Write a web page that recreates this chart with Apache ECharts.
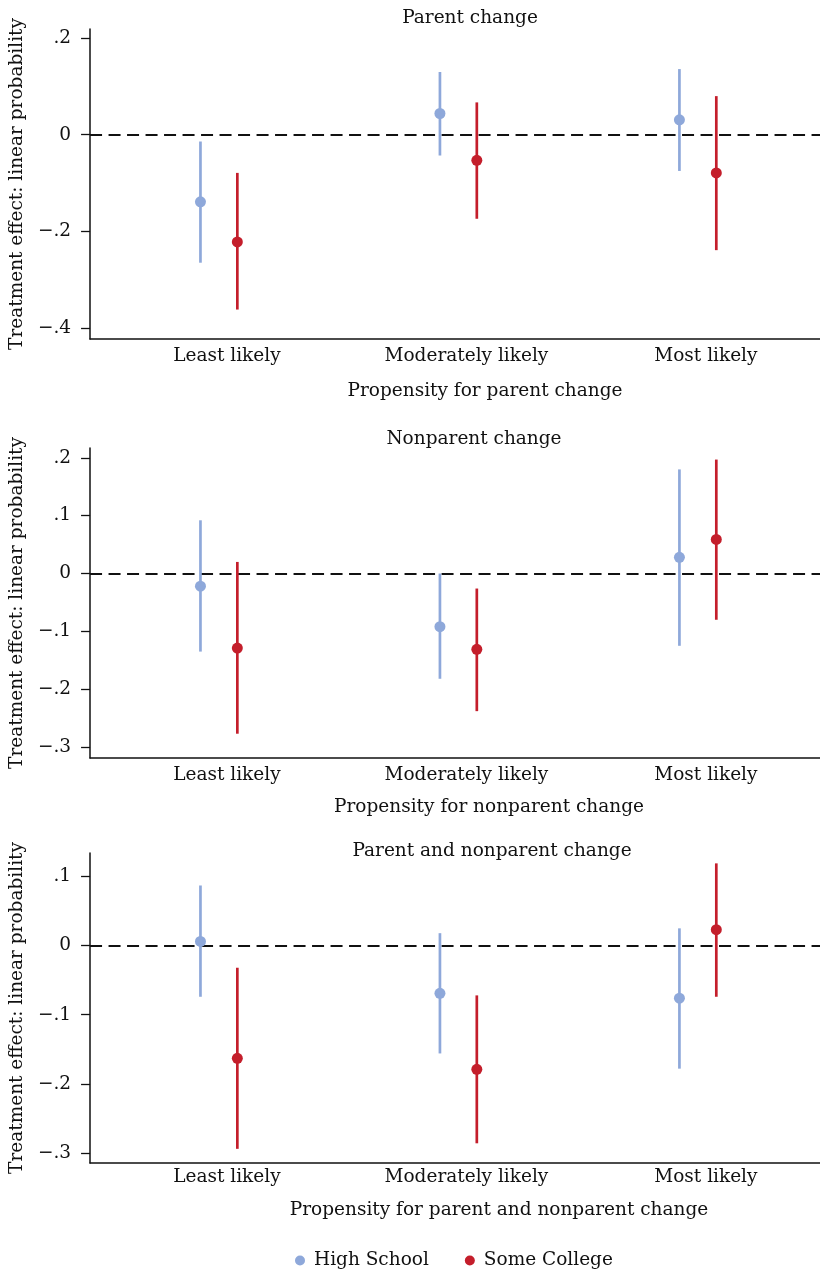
<!DOCTYPE html>
<html>
<head>
<meta charset="utf-8">
<script src="https://cdn.jsdelivr.net/npm/echarts@6/dist/echarts.min.js"></script>
<style>
  html, body { margin: 0; padding: 0; background: #fff; }
  #chart { width: 820px; height: 1270px; }
</style>
</head>
<body>
<div id="chart"></div>
<script>
// categories on the x axis
const categories = ["Least likely", "Moderately likely", "Most likely"];

// panel 1: parent change
const parentHsEst = [-0.139, 0.044, 0.031];
const parentHsLo = [-0.265, -0.043, -0.075];
const parentHsHi = [-0.014, 0.130, 0.136];
const parentScEst = [-0.222, -0.053, -0.079];
const parentScLo = [-0.362, -0.174, -0.239];
const parentScHi = [-0.079, 0.067, 0.080];
const parentTicks = [-0.4, -0.2, 0, 0.2];

// panel 2: nonparent change
const nonparentHsEst = [-0.022, -0.092, 0.028];
const nonparentHsLo = [-0.135, -0.182, -0.125];
const nonparentHsHi = [0.092, 0.0, 0.180];
const nonparentScEst = [-0.129, -0.131, 0.059];
const nonparentScLo = [-0.277, -0.238, -0.080];
const nonparentScHi = [0.020, -0.026, 0.197];
const nonparentTicks = [-0.3, -0.2, -0.1, 0, 0.1, 0.2];

// panel 3: parent and nonparent change
const bothHsEst = [0.006, -0.069, -0.076];
const bothHsLo = [-0.074, -0.156, -0.178];
const bothHsHi = [0.087, 0.018, 0.025];
const bothScEst = [-0.163, -0.179, 0.023];
const bothScLo = [-0.294, -0.286, -0.074];
const bothScHi = [-0.032, -0.072, 0.119];
const bothTicks = [-0.3, -0.2, -0.1, 0, 0.1];

const FONT = "DejaVu Serif";
const FS = 18.5;
const BLUE = "#8ea8da";
const RED = "#c41e2b";
const DODGE = 0.077;

const panels = [
  {
    title: "Parent change", xName: "Propensity for parent change",
    hs: [parentHsEst, parentHsLo, parentHsHi], sc: [parentScEst, parentScLo, parentScHi],
    ticks: parentTicks, ymin: -0.423, ymax: 0.219,
    grid: { left: 87, top: 29, height: 310 },
    titleX: 465, titleY: 4, nameGap: 43, nameShift: 60, labelY: 8,
  },
  {
    title: "Nonparent change", xName: "Propensity for nonparent change",
    hs: [nonparentHsEst, nonparentHsLo, nonparentHsHi], sc: [nonparentScEst, nonparentScLo, nonparentScHi],
    ticks: nonparentTicks, ymin: -0.319, ymax: 0.217,
    grid: { left: 87, top: 448, height: 310 },
    titleX: 469, titleY: 425, nameGap: 40, nameShift: 68, labelY: 8,
  },
  {
    title: "Parent and nonparent change", xName: "Propensity for parent and nonparent change",
    hs: [bothHsEst, bothHsLo, bothHsHi], sc: [bothScEst, bothScLo, bothScHi],
    ticks: bothTicks, ymin: -0.3145, ymax: 0.134,
    grid: { left: 89, top: 853, height: 310 },
    titleX: 487, titleY: 837, nameGap: 38, nameShift: 88, labelY: 5,
  },
];

const fmtTick = (v) => {
  const r = Math.round(v * 10) / 10;
  if (r === 0) return "0";
  const s = Math.abs(r).toFixed(1).replace(/^0/, "");
  return (r < 0 ? "\u2212" : "") + s;
};

const barRender = (color) => (params, api) => {
  const x = api.value(0);
  const p1 = api.coord([x, api.value(1)]);
  const p2 = api.coord([x, api.value(2)]);
  return {
    type: "line",
    shape: { x1: p1[0], y1: p1[1], x2: p2[0], y2: p2[1] },
    style: { stroke: color, lineWidth: 2.7 },
  };
};

const grids = [], xAxes = [], yAxes = [], titles = [], series = [];

panels.forEach((p, k) => {
  grids.push({ left: p.grid.left, top: p.grid.top, height: p.grid.height, right: 0 });
  titles.push({
    text: p.title, left: p.titleX, top: p.titleY, textAlign: "center",
    textStyle: { fontFamily: FONT, fontSize: FS, fontWeight: "normal", color: "#111" },
  });
  xAxes.push({
    gridIndex: k, type: "value", min: 0.462, max: 3.51,
    name: p.xName, nameLocation: "middle", nameGap: p.nameGap,
    nameTextStyle: { fontFamily: FONT, fontSize: FS, color: "#111", padding: [0, 0, 0, p.nameShift] },
    axisLine: { show: true, onZero: false, lineStyle: { color: "#111", width: 1.5 } },
    axisTick: { show: false },
    splitLine: { show: false },
    axisLabel: {
      customValues: [1, 2, 3], margin: p.labelY,
      fontFamily: FONT, fontSize: FS, color: "#111", padding: [0, 0, 0, 16],
      formatter: (v) => categories[Math.round(v) - 1] || "",
    },
  });
  yAxes.push({
    gridIndex: k, type: "value", min: p.ymin, max: p.ymax,
    name: "Treatment effect: linear probability", nameLocation: "middle", nameGap: 60,
    nameTextStyle: { fontFamily: FONT, fontSize: FS, color: "#111" },
    axisLine: { show: true, lineStyle: { color: "#111", width: 1.5 } },
    axisTick: { show: true, customValues: p.ticks, length: 9, lineStyle: { color: "#111", width: 1.3 } },
    splitLine: { show: false },
    axisLabel: {
      customValues: p.ticks, margin: 19,
      fontFamily: FONT, fontSize: FS, color: "#111", formatter: fmtTick,
    },
  });

  const groups = [
    { name: "High School", color: BLUE, vals: p.hs, off: -DODGE },
    { name: "Some College", color: RED, vals: p.sc, off: DODGE },
  ];
  groups.forEach((g, gi) => {
    const [est, lo, hi] = g.vals;
    series.push({
      name: g.name, type: "custom", xAxisIndex: k, yAxisIndex: k,
      renderItem: barRender(g.color), itemStyle: { color: g.color },
      encode: { x: 0, y: [1, 2] }, z: 3, silent: true,
      data: categories.map((c, i) => [i + 1 + g.off, lo[i], hi[i]]),
    });
    const s = {
      name: g.name, type: "scatter", xAxisIndex: k, yAxisIndex: k,
      symbol: "circle", symbolSize: 11, itemStyle: { color: g.color, opacity: 1 },
      z: 4, silent: true,
      data: categories.map((c, i) => [i + 1 + g.off, est[i]]),
    };
    if (gi === 0) {
      s.markLine = {
        silent: true, symbol: ["none", "none"], label: { show: false }, z: 2,
        lineStyle: { color: "#111", width: 1.8, type: [12, 6.5] },
        data: [{ yAxis: 0 }],
      };
    }
    series.push(s);
  });
});

const chart = echarts.init(document.getElementById("chart"), null, { renderer: "canvas" });
chart.setOption({
  animation: false,
  backgroundColor: "#fff",
  title: titles,
  grid: grids,
  xAxis: xAxes,
  yAxis: yAxes,
  legend: {
    data: ["High School", "Some College"],
    left: 290, top: 1246,
    icon: "circle", itemWidth: 18, itemHeight: 10, itemGap: 36,
    textStyle: { fontFamily: FONT, fontSize: FS, color: "#111" },
  },
  series: series,
});
</script>
</body>
</html>
